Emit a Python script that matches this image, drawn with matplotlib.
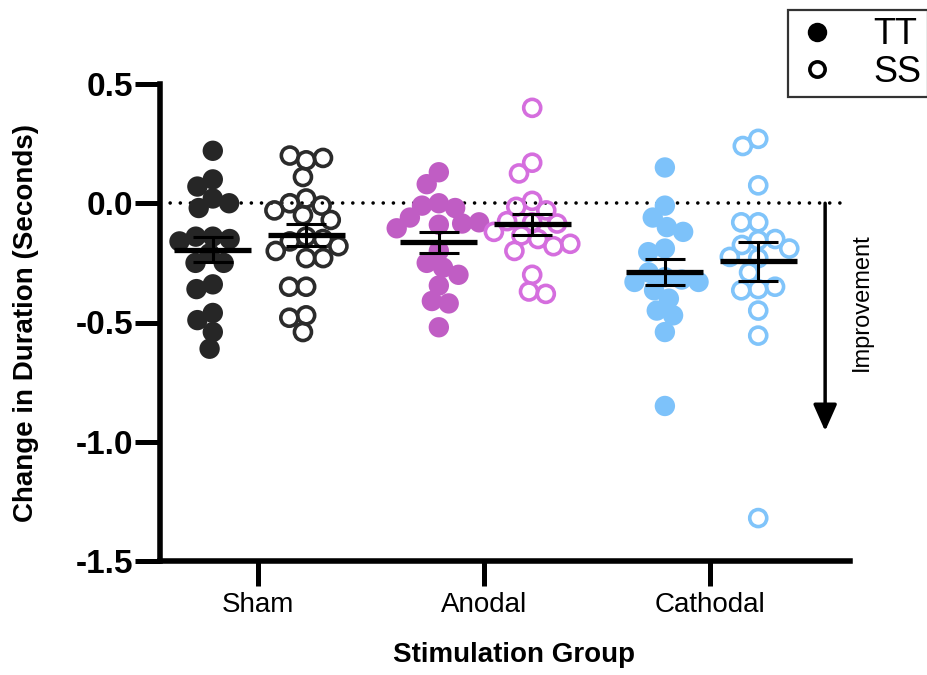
import numpy as np
import matplotlib
matplotlib.use('Agg')
from matplotlib import pyplot as plt
from matplotlib.lines import Line2D

plt.rcParams['font.family'] = ['Liberation Sans', 'DejaVu Sans']
plt.rcParams['axes.unicode_minus'] = False

# data
groups = ['Sham', 'Anodal', 'Cathodal']
sham_tt = [0.22, 0.10, 0.07, 0.02, 0.00, -0.02, -0.14, -0.14, -0.15, -0.16, -0.21,
           -0.25, -0.25, -0.34, -0.36, -0.46, -0.49, -0.54, -0.61]
sham_ss = [0.18, 0.20, 0.19, 0.11, 0.02, 0.00, -0.01, -0.03, -0.05, -0.07, -0.14,
           -0.16, -0.15, -0.18, -0.20, -0.23, -0.23, -0.35, -0.35, -0.47, -0.48, -0.54]
anodal_tt = [0.13, 0.08, 0.00, -0.01, -0.02, -0.06, -0.09, -0.085, -0.08, -0.105,
             -0.20, -0.25, -0.27, -0.30, -0.345, -0.41, -0.42, -0.52]
anodal_ss = [0.40, 0.17, 0.125, 0.01, -0.015, -0.03, -0.08, -0.075, -0.085, -0.12,
             -0.135, -0.15, -0.20, -0.18, -0.17, -0.30, -0.37, -0.38]
cathodal_tt = [0.15, -0.01, -0.06, -0.10, -0.12, -0.19, -0.205, -0.31, -0.29, -0.32,
               -0.33, -0.33, -0.365, -0.40, -0.45, -0.47, -0.54, -0.85]
cathodal_ss = [0.27, 0.24, 0.075, -0.08, -0.08, -0.155, -0.175, -0.15, -0.19, -0.23,
               -0.225, -0.29, -0.36, -0.365, -0.35, -0.45, -0.555, -1.32]

tt_data = [sham_tt, anodal_tt, cathodal_tt]
ss_data = [sham_ss, anodal_ss, cathodal_ss]
tt_colors = ['#262626', '#C05DC4', '#7DC2FA']
ss_colors = ['#2B2B2B', '#D56EDE', '#80C4FA']

# pixel scale of the axes, used for the swarm layout
XPX = 226.0
YPX = 238.5


def swarm(vals, dmin=17.0):
    ys = np.asarray(vals) * YPX
    xs = np.zeros(len(ys))
    placed = []
    for i in range(len(ys)):
        cands = [0.0]
        for j in placed:
            dy = ys[i] - ys[j]
            if abs(dy) < dmin:
                dx = np.sqrt(dmin ** 2 - dy ** 2)
                cands += [xs[j] + dx, xs[j] - dx]
        cands.sort(key=lambda c: (abs(c), c))
        for c in cands:
            ok = all((c - xs[j]) ** 2 + (ys[i] - ys[j]) ** 2 >= dmin ** 2 - 1e-6
                     for j in placed)
            if ok:
                xs[i] = c
                break
        placed.append(i)
    return xs / XPX


fig = plt.figure(figsize=(9.28, 6.75), dpi=100)
ax = fig.add_axes([160 / 928, 1 - 561 / 675, 690 / 928, 477 / 675])

ax.axhline(0, color='black', lw=2.6, ls=(0, (0.01, 2.8)), dash_capstyle='round', zorder=1)


def draw_group(x0, vals, color, filled):
    xs = x0 + swarm(vals)
    if filled:
        ax.scatter(xs, vals, s=215, color=color, edgecolors='none', zorder=3)
    else:
        ax.scatter(xs, vals, s=150, facecolors='none', edgecolors=color,
                   linewidths=2.6, zorder=3)
    m = np.mean(vals)
    sem = np.std(vals, ddof=1) / np.sqrt(len(vals))
    ax.plot([x0 - 0.17, x0 + 0.17], [m, m], color='black', lw=3.8, zorder=5,
            solid_capstyle='butt')
    ax.errorbar([x0], [m], yerr=[sem], color='black', lw=2.2, capsize=14.5,
                capthick=2.2, zorder=5)


for i in range(3):
    draw_group(i - 0.2, tt_data[i], tt_colors[i], True)
    draw_group(i + 0.213, ss_data[i], ss_colors[i], False)

ax.set_xlim(-0.4336, 2.619)
ax.set_ylim(-1.5, 0.5)
ax.set_xticks(range(3))
ax.set_xticklabels(groups, fontsize=20)
ax.set_yticks([0.5, 0.0, -0.5, -1.0, -1.5])
ax.set_yticklabels(['%.1f' % v for v in [0.5, 0.0, -0.5, -1.0, -1.5]],
                   fontsize=24, fontweight='bold')
ax.tick_params(axis='both', length=18, width=3.6, color='black')
ax.tick_params(axis='x', pad=4)
ax.tick_params(axis='y', pad=1)
for s in ['top', 'right']:
    ax.spines[s].set_visible(False)
for s in ['left', 'bottom']:
    ax.spines[s].set_linewidth(4)

ax.set_ylabel('Change in Duration (Seconds)', fontsize=20, fontweight='bold')
ax.yaxis.set_label_coords(-0.175, 0.5)
ax.set_xlabel('Stimulation Group', fontsize=20, fontweight='bold')
ax.xaxis.set_label_coords(0.513, -0.17)

# improvement arrow
ax.annotate('', xy=(2.509, -0.955), xytext=(2.509, 0.0),
            arrowprops=dict(arrowstyle='-|>,head_length=0.9,head_width=0.4',
                            color='black', lw=2.5, mutation_scale=18,
                            shrinkA=0, shrinkB=0),
            annotation_clip=False, zorder=4)
ax.text(2.673, -0.415, 'Improvement', rotation=90, ha='center', va='center',
        fontsize=17, clip_on=False)

handles = [Line2D([], [], ls='none', marker='o', markersize=14, color='black',
                  markeredgewidth=0),
           Line2D([], [], ls='none', marker='o', markersize=11, markerfacecolor='none',
                  markeredgecolor='black', markeredgewidth=2.6)]
leg = fig.legend(handles, ['TT', 'SS'], loc='upper left',
                 bbox_to_anchor=(788 / 928, 1 - 10 / 675), fontsize=26,
                 frameon=True, fancybox=False, edgecolor='black', borderpad=0.2,
                 handlelength=1.22, handletextpad=0.94, labelspacing=0.08,
                 borderaxespad=0)
leg.get_frame().set_linewidth(1.6)

fig.savefig('out.png', dpi=100)
